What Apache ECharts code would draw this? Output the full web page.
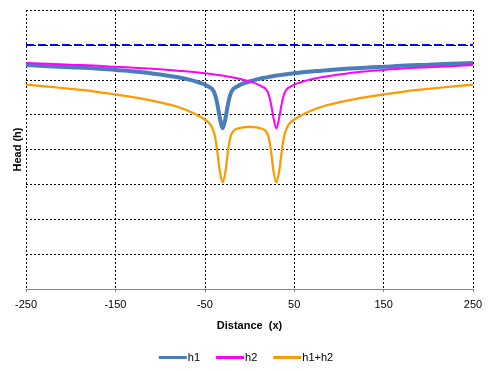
<!DOCTYPE html>
<html>
<head>
<meta charset="utf-8">
<script src="https://cdn.jsdelivr.net/npm/echarts@6/dist/echarts.min.js"></script>
<style>
html,body{margin:0;padding:0;background:#fff;}
#chart{width:492px;height:371px;}
</style>
</head>
<body>
<div id="chart"></div>
<script>
// Distance values (x)
var xs = [-250,-225,-200,-175,-150,-125,-100,-80,-65,-55,
          -50,-45,-42,-39,-36,-33,-30,-27,-24,-21,
          -18,-15,-10,-5,0,5,10,15,18,21,
          24,27,30,33,36,39,42,45,50,55,
          65,80,100,125,150,175,200,225,250];
// Head values (arbitrary vertical units, 0..8)
var h1 = [6.42,6.39,6.36,6.33,6.28,6.23,6.15,6.07,5.99,5.91,
          5.86,5.79,5.74,5.61,5.31,4.88,4.61,4.88,5.31,5.61,
          5.74,5.79,5.86,5.91,5.95,5.99,6.02,6.05,6.06,6.08,
          6.09,6.11,6.12,6.13,6.14,6.15,6.16,6.17,6.19,6.20,
          6.23,6.26,6.30,6.34,6.37,6.41,6.43,6.46,6.48];
var h2 = [6.48,6.46,6.43,6.41,6.37,6.34,6.30,6.26,6.23,6.20,
          6.19,6.17,6.16,6.15,6.14,6.13,6.12,6.11,6.09,6.08,
          6.06,6.05,6.02,5.99,5.95,5.91,5.86,5.79,5.74,5.61,
          5.31,4.88,4.61,4.88,5.31,5.61,5.74,5.79,5.86,5.91,
          5.99,6.07,6.15,6.23,6.28,6.33,6.36,6.39,6.42];
var h12 = [5.86,5.80,5.74,5.67,5.58,5.48,5.35,5.22,5.07,4.94,
           4.86,4.75,4.63,4.42,3.93,3.35,3.06,3.35,3.96,4.39,
           4.53,4.59,4.62,4.64,4.65,4.64,4.62,4.59,4.53,4.39,
           3.96,3.35,3.06,3.35,3.93,4.42,4.63,4.75,4.86,4.94,
           5.07,5.22,5.35,5.48,5.58,5.67,5.74,5.80,5.86];
// Initial head line (dashed)
var h0x = [-250, 250];
var h0 = [7, 7];
var xTicks = [-250,-150,-50,50,150,250];

function pairs(a, b){ return a.map(function(v,i){ return [v, b[i]]; }); }

var chart = echarts.init(document.getElementById('chart'), null, {renderer:'canvas'});
var FONT = 'Liberation Sans';
chart.setOption({
  animation:false,
  backgroundColor:'#fff',
  textStyle:{fontFamily:FONT},
  grid:{left:26, right:19, top:10, bottom:82, containLabel:false},
  legend:{
    bottom:3, left:'center', icon:'rect',
    itemWidth:28, itemHeight:3, itemGap:16,
    textStyle:{fontFamily:FONT, fontSize:11, color:'#000', padding:[0,0,0,-4]},
    data:['h1','h2','h1+h2']
  },
  xAxis:{
    type:'value', min:-250, max:250, interval:100,
    name:'Distance  (x)', nameLocation:'middle', nameGap:31,
    nameTextStyle:{fontFamily:FONT, fontWeight:'bold', fontSize:11, color:'#000'},
    axisLine:{show:true, onZero:false, lineStyle:{color:'#888', width:1}},
    axisTick:{show:true, length:3, lineStyle:{color:'#888'}},
    axisLabel:{fontFamily:FONT, fontSize:11, color:'#000', margin:10},
    splitLine:{show:true, lineStyle:{color:'#000', type:[2,2], width:1}}
  },
  yAxis:{
    type:'value', min:0, max:8, interval:1,
    name:'Head (h)', nameLocation:'middle', nameGap:3, nameRotate:90,
    nameTextStyle:{fontFamily:FONT, fontWeight:'bold', fontSize:11, color:'#000'},
    axisLine:{show:false}, axisTick:{show:false}, axisLabel:{show:false},
    splitLine:{show:true, lineStyle:{color:'#000', type:[2,2], width:1}}
  },
  series:[
    {name:'H0', type:'line', data:pairs(h0x,h0), symbol:'none',
     lineStyle:{color:'#0000ff', width:2, type:[8,4]}, z:1},
    {name:'h1', type:'line', data:pairs(xs,h1), symbol:'none', smooth:0.35,
     itemStyle:{color:'#4a7ebb'}, lineStyle:{color:'#4a7ebb', width:4}, z:3},
    {name:'h2', type:'line', data:pairs(xs,h2), symbol:'none', smooth:0.35,
     itemStyle:{color:'#ff00ff'}, lineStyle:{color:'#ff00ff', width:2}, z:4},
    {name:'h1+h2', type:'line', data:pairs(xs,h12), symbol:'none', smooth:0.35,
     itemStyle:{color:'#ff9900'}, lineStyle:{color:'#ff9900', width:2.25}, z:2}
  ]
});
</script>
</body>
</html>
